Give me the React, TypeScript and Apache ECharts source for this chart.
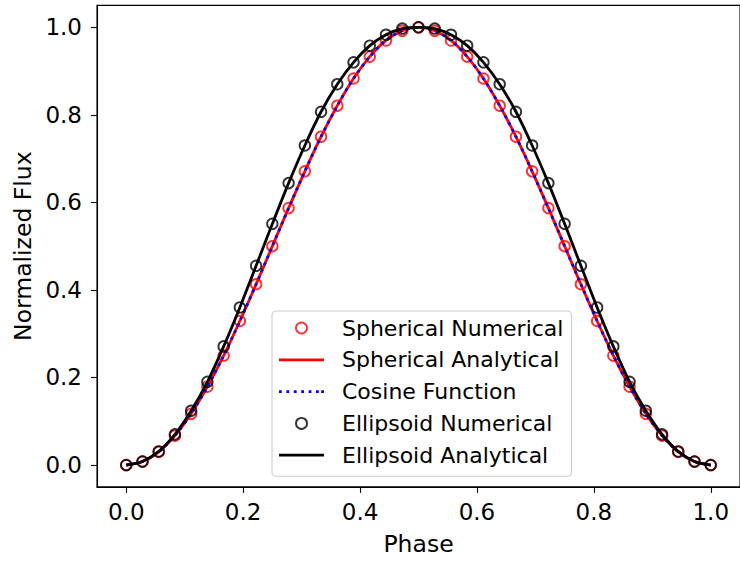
import React, { useEffect, useRef } from "react";
import * as echarts from "echarts";

const phase = [
  0, 0.0278, 0.0556, 0.0833, 0.1111, 0.1389, 0.1667, 0.1944, 0.2222, 0.25,
  0.2778, 0.3056, 0.3333, 0.3611, 0.3889, 0.4167, 0.4444, 0.4722, 0.5,
  0.5278, 0.5556, 0.5833, 0.6111, 0.6389, 0.6667, 0.6944, 0.7222, 0.75,
  0.7778, 0.8056, 0.8333, 0.8611, 0.8889, 0.9167, 0.9444, 0.9722, 1.0,
];

const sphericalNumerical = [
  0, 0.008, 0.030, 0.067, 0.117, 0.179, 0.250, 0.329, 0.413, 0.500,
  0.587, 0.671, 0.750, 0.821, 0.883, 0.933, 0.970, 0.992, 1.000,
  0.992, 0.970, 0.933, 0.883, 0.821, 0.750, 0.671, 0.587, 0.500,
  0.413, 0.329, 0.250, 0.179, 0.117, 0.067, 0.030, 0.008, 0,
];

const sphericalAnalytical = [
  0, 0.008, 0.030, 0.067, 0.117, 0.179, 0.250, 0.329, 0.413, 0.500,
  0.587, 0.671, 0.750, 0.821, 0.883, 0.933, 0.970, 0.992, 1.000,
  0.992, 0.970, 0.933, 0.883, 0.821, 0.750, 0.671, 0.587, 0.500,
  0.413, 0.329, 0.250, 0.179, 0.117, 0.067, 0.030, 0.008, 0,
];

const cosineFunction = [
  0, 0.008, 0.030, 0.067, 0.117, 0.179, 0.250, 0.329, 0.413, 0.500,
  0.587, 0.671, 0.750, 0.821, 0.883, 0.933, 0.970, 0.992, 1.000,
  0.992, 0.970, 0.933, 0.883, 0.821, 0.750, 0.671, 0.587, 0.500,
  0.413, 0.329, 0.250, 0.179, 0.117, 0.067, 0.030, 0.008, 0,
];

const ellipsoidNumerical = [
  0, 0.008, 0.031, 0.070, 0.124, 0.190, 0.271, 0.360, 0.455, 0.551,
  0.644, 0.730, 0.807, 0.870, 0.920, 0.958, 0.983, 0.997, 1.000,
  0.997, 0.983, 0.958, 0.920, 0.870, 0.807, 0.730, 0.644, 0.551,
  0.455, 0.360, 0.271, 0.190, 0.124, 0.070, 0.031, 0.008, 0,
];

const ellipsoidAnalytical = [
  0, 0.008, 0.031, 0.070, 0.124, 0.190, 0.271, 0.360, 0.455, 0.551,
  0.644, 0.730, 0.807, 0.870, 0.920, 0.958, 0.983, 0.997, 1.000,
  0.997, 0.983, 0.958, 0.920, 0.870, 0.807, 0.730, 0.644, 0.551,
  0.455, 0.360, 0.271, 0.190, 0.124, 0.070, 0.031, 0.008, 0,
];

const tickValues = [0, 0.2, 0.4, 0.6, 0.8, 1.0];

const seriesNames = [
  "Spherical Numerical",
  "Spherical Analytical",
  "Cosine Function",
  "Ellipsoid Numerical",
  "Ellipsoid Analytical",
];

const pairs = (ys: number[]) => phase.map((x, i) => [x, ys[i]]);

const FONT = "DejaVu Sans";

// legend handle shapes (45 x 2.8 px)
const SOLID_ICON = "path://M0,0h45v2.8h-45z";
const DOTTED_ICON =
  "path://M0,0h2.8v2.8h-2.8zM7.4,0h2.8v2.8h-2.8zM14.8,0h2.8v2.8h-2.8zM22.2,0h2.8v2.8h-2.8zM29.6,0h2.8v2.8h-2.8zM37,0h2.8v2.8h-2.8zM42.2,0h2.8v2.8h-2.8z";

export default function App() {
  const ref = useRef<HTMLDivElement>(null);
  useEffect(() => {
    if (!ref.current) return;
    const chart = echarts.init(ref.current, null, { renderer: "svg" });
    const axisCommon = {
      type: "value" as const,
      min: -0.05,
      max: 1.05,
      splitLine: { show: false },
      axisLine: { show: true, onZero: false, lineStyle: { color: "#000", width: 1.1 } },
      axisTick: {
        show: true,
        length: 6,
        lineStyle: { color: "#000", width: 1.1 },
        customValues: tickValues,
      },
      axisLabel: {
        color: "#000",
        fontSize: 23,
        fontFamily: FONT,
        customValues: tickValues,
        formatter: (v: number) => v.toFixed(1),
      },
      nameLocation: "middle" as const,
      nameTextStyle: { color: "#000", fontSize: 23.5, fontFamily: FONT },
    };
    chart.setOption({
      animation: false,
      backgroundColor: "#fff",
      grid: {
        left: 97,
        top: 5.4,
        width: 646.8,
        height: 481.5,
        show: true,
        borderColor: "#000",
        borderWidth: 1.1,
        backgroundColor: "transparent",
      },
      xAxis: {
        ...axisCommon,
        name: "Phase",
        nameGap: 45,
        axisLabel: { ...axisCommon.axisLabel, margin: 14 },
      },
      yAxis: {
        ...axisCommon,
        name: "Normalized Flux",
        nameGap: 62,
        axisLabel: { ...axisCommon.axisLabel, margin: 15 },
      },
      legend: {
        orient: "vertical",
        left: 272,
        top: 311,
        itemWidth: 45,
        itemHeight: 11,
        itemGap: 9.8,
        padding: [6, 8, 10, 7],
        backgroundColor: "rgba(255,255,255,0.8)",
        borderColor: "#cccccc",
        borderWidth: 1.1,
        borderRadius: 4,
        textStyle: {
          color: "#000",
          fontSize: 22,
          fontFamily: FONT,
          padding: [0, 0, 0, 13],
        },
        data: [
          { name: seriesNames[0], icon: "circle", itemStyle: { color: "transparent", borderColor: "#ff0000", borderWidth: 1.9 } },
          { name: seriesNames[1], icon: SOLID_ICON, itemStyle: { color: "#ff0000", borderWidth: 0 } },
          { name: seriesNames[2], icon: DOTTED_ICON, itemStyle: { color: "#0000ff", borderWidth: 0 } },
          { name: seriesNames[3], icon: "circle", itemStyle: { color: "transparent", borderColor: "#000000", borderWidth: 1.9 } },
          { name: seriesNames[4], icon: SOLID_ICON, itemStyle: { color: "#000000", borderWidth: 0 } },
        ],
      },
      series: [
        {
          name: seriesNames[0],
          type: "scatter",
          data: pairs(sphericalNumerical),
          symbol: "circle",
          symbolSize: 10.5,
          itemStyle: { color: "transparent", borderColor: "#ff0000", borderWidth: 1.9 },
          z: 2,
        },
        {
          name: seriesNames[1],
          type: "line",
          data: pairs(sphericalAnalytical),
          symbol: "none",
          smooth: 0.3,
          lineStyle: { color: "#ff0000", width: 2.8 },
          itemStyle: { color: "#ff0000" },
          z: 3,
        },
        {
          name: seriesNames[2],
          type: "line",
          data: pairs(cosineFunction),
          symbol: "none",
          smooth: 0.3,
          lineStyle: { color: "#0000ff", width: 2.8, type: [2.8, 4.6] },
          itemStyle: { color: "#0000ff" },
          z: 4,
        },
        {
          name: seriesNames[3],
          type: "scatter",
          data: pairs(ellipsoidNumerical),
          symbol: "circle",
          symbolSize: 10.5,
          itemStyle: { color: "transparent", borderColor: "#000000", borderWidth: 1.9 },
          z: 5,
        },
        {
          name: seriesNames[4],
          type: "line",
          data: pairs(ellipsoidAnalytical),
          symbol: "none",
          smooth: 0.3,
          lineStyle: { color: "#000000", width: 2.8 },
          itemStyle: { color: "#000000" },
          z: 6,
        },
      ],
    });
    return () => chart.dispose();
  }, []);
  return (
    <div
      ref={ref}
      style={{ position: "absolute", left: 0, top: 0, width: 740, height: 563 }}
    />
  );
}
